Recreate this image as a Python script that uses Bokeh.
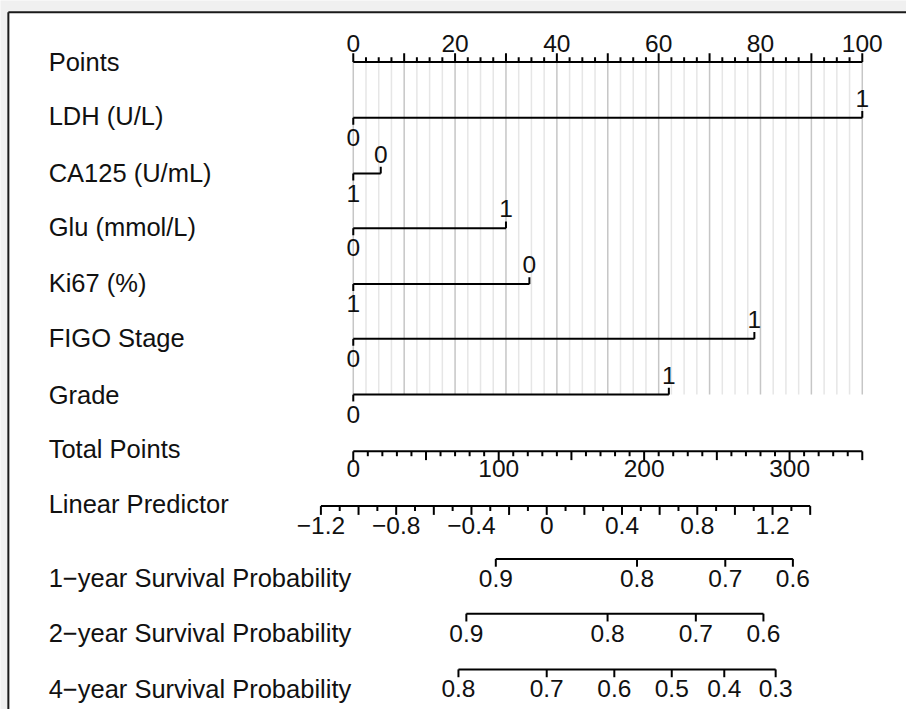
import math
from bokeh.plotting import figure
from bokeh.models import Range1d
from bokeh.core.properties import value
from bokeh.embed import file_html
from bokeh.resources import INLINE

# ---------------- data ----------------
row_labels = ["Points", "LDH (U/L)", "CA125 (U/mL)", "Glu (mmol/L)", "Ki67 (%)",
              "FIGO Stage", "Grade", "Total Points", "Linear Predictor",
              "1\u2212year Survival Probability", "2\u2212year Survival Probability",
              "4\u2212year Survival Probability"]

points_tick_labels = [0, 20, 40, 60, 80, 100]
points_minor_step = 2.5
points_major_step = 10

pred_names = ["LDH (U/L)", "CA125 (U/mL)", "Glu (mmol/L)", "Ki67 (%)", "FIGO Stage", "Grade"]
pred_level_at_zero = ["0", "1", "0", "1", "0", "0"]      # level giving 0 points
pred_level_at_max = ["1", "0", "1", "0", "1", "1"]       # level giving max points
pred_points = [100.0, 5.4, 30.0, 34.6, 78.8, 62.0]

total_points_labels = [0, 100, 200, 300]
total_points_max = 350
total_minor_step = 10
total_major_step = 50

lp_labels = [-1.2, -0.8, -0.4, 0.0, 0.4, 0.8, 1.2]
lp_axis_range = [-1.2, 1.4]
lp_minor_step = 0.1
lp_at_zero_points = -1.028
total_points_per_lp = 129.4

surv_1y = [0.9, 0.8, 0.7, 0.6]
surv_2y = [0.9, 0.8, 0.7, 0.6]
surv_4y = [0.8, 0.7, 0.6, 0.5, 0.4, 0.3]
baseline_cumhaz = [0.1381, 0.1615, 0.3567]

# ---------------- scales ----------------
def tp_to_x(tp):
    return tp * 100.0 / total_points_max

def lp_to_x(lp):
    return tp_to_x((lp - lp_at_zero_points) * total_points_per_lp)

def surv_to_x(s, h0):
    return lp_to_x(math.log(-math.log(s)) - math.log(h0))

def fmt(v):
    return ("%g" % v).replace("-", "\u2212")

# ---------------- layout ----------------
PX_PER_POINT = 5.18          # horizontal scale of the 0-100 points axis
ORIGIN_PX = 359              # where 0 points sits
CANVAS_W, CANVAS_H = 922, 725
PANEL_LEFT_PX, PANEL_TOP_PX = 8, 12
LABEL_X = (49 - ORIGIN_PX) / PX_PER_POINT

row_y = [63, 120, 177, 233, 290, 346, 403, 461, 517, 571, 627, 684]
label_dy = [0, -2, -1, -1, -1, -1, 0, -2, -2, 20, 20, 20]
FONT = value("Liberation Sans")
LABEL_SIZE = "25.5px"
TICK_SIZE = "24.5px"
LW = 2

x_lo = (0 - ORIGIN_PX) / PX_PER_POINT
x_hi = (CANVAS_W - ORIGIN_PX) / PX_PER_POINT
x_panel = (PANEL_LEFT_PX - ORIGIN_PX) / PX_PER_POINT

p = figure(width=906, height=709, output_backend="svg", toolbar_location=None,
           x_range=Range1d(x_lo, x_hi), y_range=Range1d(CANVAS_H, 0),
           x_axis_location=None, y_axis_location=None, title=None,
           min_border=0, min_border_top=0, min_border_left=0, min_border_right=0, min_border_bottom=0,
           border_fill_color="#f0f0f0", background_fill_color="#f0f0f0")
p.outline_line_color = None
p.grid.visible = False

# white panel with its top/left border
p.quad(left=[x_panel], right=[x_hi], top=[PANEL_TOP_PX], bottom=[CANVAS_H],
       fill_color="white", line_color=None)
p.segment(x0=[x_panel, x_panel], y0=[PANEL_TOP_PX, PANEL_TOP_PX],
          x1=[x_hi, x_panel], y1=[PANEL_TOP_PX, CANVAS_H], line_color="#1a1a1a", line_width=2)


def txt(xs, ys, texts, size, align="center"):
    p.text(x=xs, y=ys, text=texts, text_font=FONT, text_font_size=size,
           text_align=align, text_baseline="middle", text_color="#111111")


# grid lines
gx, gmaj = [], []
n = int(round(100 / points_minor_step))
for i in range(n + 1):
    v = i * points_minor_step
    gx.append(v)
    gmaj.append(abs(v / points_major_step - round(v / points_major_step)) < 1e-9)
minor_x = [v for v, m in zip(gx, gmaj) if not m]
major_x = [v for v, m in zip(gx, gmaj) if m]
p.segment(x0=minor_x, y0=[row_y[0]] * len(minor_x), x1=minor_x, y1=[row_y[6]] * len(minor_x),
          line_color="#e6e6e6", line_width=1.5)
p.segment(x0=major_x, y0=[row_y[0]] * len(major_x), x1=major_x, y1=[row_y[6]] * len(major_x),
          line_color="#c6c6c6", line_width=1.5)

# row labels
txt([LABEL_X] * len(row_labels), [y + d for y, d in zip(row_y, label_dy)], row_labels, LABEL_SIZE, "left")

# Points axis (ticks upwards, labels above)
y0 = row_y[0]
p.line(x=[0, 100], y=[y0, y0], line_color="black", line_width=LW)
p.segment(x0=minor_x, y0=[y0] * len(minor_x), x1=minor_x, y1=[y0 - 5] * len(minor_x),
          line_color="black", line_width=LW)
p.segment(x0=major_x, y0=[y0] * len(major_x), x1=major_x, y1=[y0 - 9] * len(major_x),
          line_color="black", line_width=LW)
txt(points_tick_labels, [y0 - 19] * len(points_tick_labels), [fmt(v) for v in points_tick_labels], TICK_SIZE)

# predictors
for i, (pts, lz, lm) in enumerate(zip(pred_points, pred_level_at_zero, pred_level_at_max)):
    y = row_y[i + 1]
    p.line(x=[0, pts], y=[y, y], line_color="black", line_width=LW)
    p.segment(x0=[0, pts], y0=[y, y], x1=[0, pts], y1=[y + 7, y - 7], line_color="black", line_width=LW)
    txt([0], [y + 20], [lz], TICK_SIZE)
    txt([pts], [y - 20], [lm], TICK_SIZE)

# Total points axis (ticks down, labels below)
y = row_y[7]
tmin = [k * total_minor_step for k in range(int(total_points_max / total_minor_step) + 1)]
tmaj = [v for v in tmin if v % total_major_step == 0]
tmin_only = [v for v in tmin if v % total_major_step != 0]
p.line(x=[tp_to_x(0), tp_to_x(total_points_max)], y=[y, y], line_color="black", line_width=LW)
p.segment(x0=[tp_to_x(v) for v in tmin_only], y0=[y] * len(tmin_only),
          x1=[tp_to_x(v) for v in tmin_only], y1=[y + 5] * len(tmin_only), line_color="black", line_width=LW)
p.segment(x0=[tp_to_x(v) for v in tmaj], y0=[y] * len(tmaj),
          x1=[tp_to_x(v) for v in tmaj], y1=[y + 9] * len(tmaj), line_color="black", line_width=LW)
txt([tp_to_x(v) for v in total_points_labels], [y + 18] * len(total_points_labels),
    [fmt(v) for v in total_points_labels], TICK_SIZE)

# Linear predictor axis
y = row_y[8]
nlp = int(round((lp_axis_range[1] - lp_axis_range[0]) / lp_minor_step))
lpt = [lp_axis_range[0] + k * lp_minor_step for k in range(nlp + 1)]
lp_major = [v for k, v in enumerate(lpt) if k % 2 == 0]
lp_minor = [v for k, v in enumerate(lpt) if k % 2 == 1]
p.line(x=[lp_to_x(lp_axis_range[0]), lp_to_x(lp_axis_range[1])], y=[y, y], line_color="black", line_width=LW)
p.segment(x0=[lp_to_x(v) for v in lp_minor], y0=[y] * len(lp_minor),
          x1=[lp_to_x(v) for v in lp_minor], y1=[y + 5] * len(lp_minor), line_color="black", line_width=LW)
p.segment(x0=[lp_to_x(v) for v in lp_major], y0=[y] * len(lp_major),
          x1=[lp_to_x(v) for v in lp_major], y1=[y + 9] * len(lp_major), line_color="black", line_width=LW)
txt([lp_to_x(v) for v in lp_labels], [y + 20] * len(lp_labels), [fmt(v) for v in lp_labels], TICK_SIZE)

# survival axes
for k, (vals, h0) in enumerate(zip([surv_1y, surv_2y, surv_4y], baseline_cumhaz)):
    y = row_y[9 + k]
    xs = [surv_to_x(s, h0) for s in vals]
    p.line(x=[min(xs), max(xs)], y=[y, y], line_color="black", line_width=LW)
    p.segment(x0=xs, y0=[y] * len(xs), x1=xs, y1=[y + 8] * len(xs), line_color="black", line_width=LW)
    txt(xs, [y + 20] * len(xs), [fmt(s) for s in vals], TICK_SIZE)

open("out.html", "w").write(file_html(p, INLINE))
